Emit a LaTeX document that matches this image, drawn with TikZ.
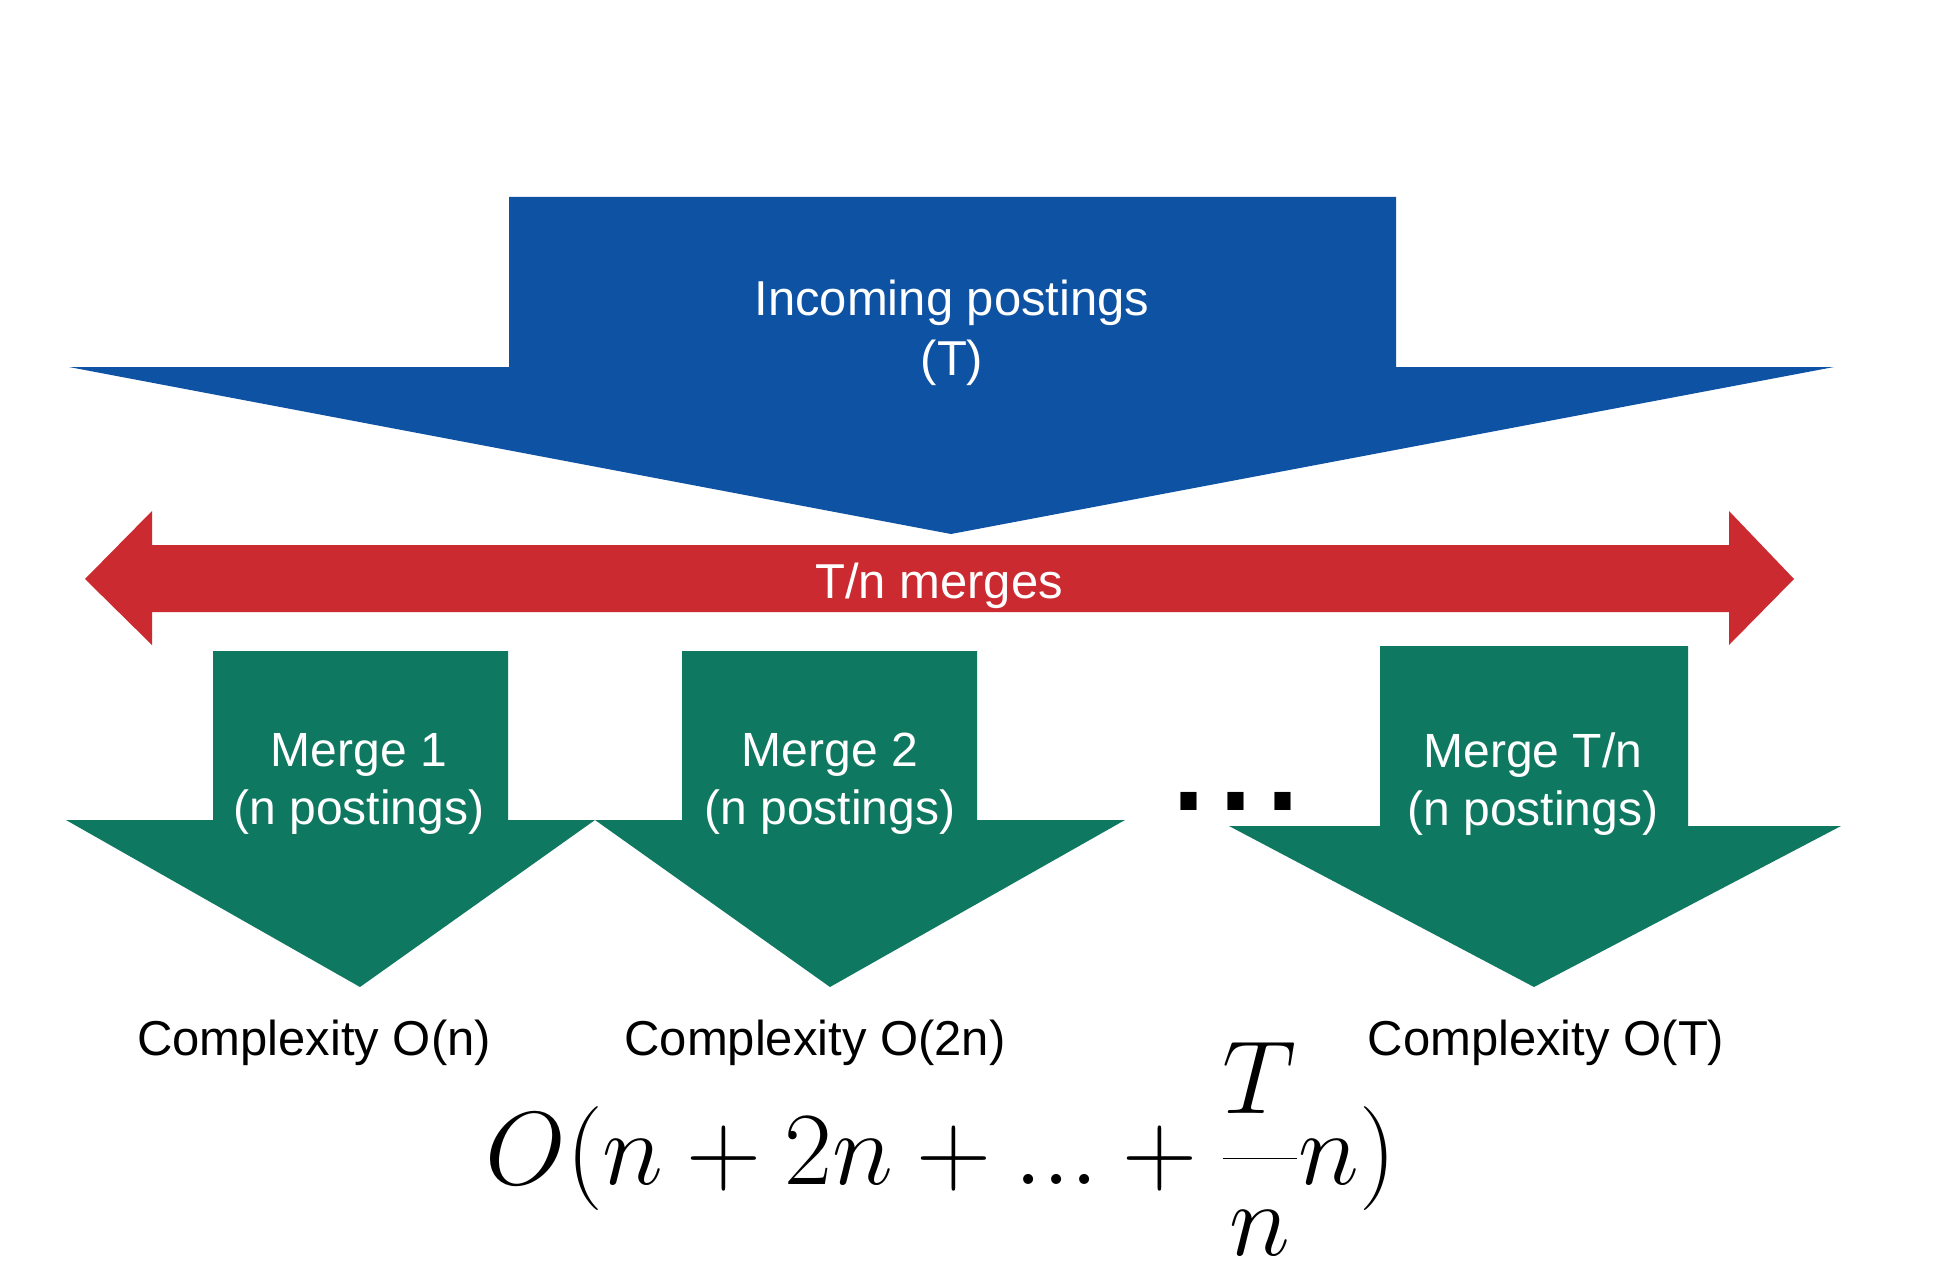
\RequirePackage{fix-cm}
\documentclass[tikz,border=0pt]{standalone}
\usepackage[no-math]{fontspec}
\setmainfont{Liberation Sans}
\definecolor{blueA}{RGB}{14,82,164}
\definecolor{redA}{RGB}{203,42,48}
\definecolor{greenA}{RGB}{15,120,97}
\begin{document}
\begin{tikzpicture}[x=0.5pt,y=-0.5pt,
  lbl/.style={inner sep=0pt, outer sep=0pt, align=center, font=\fontsize{24.5}{30}\selectfont},
  mlbl/.style={inner sep=0pt, outer sep=0pt, align=center, text=white, font=\fontsize{24}{29}\selectfont},
  bigarrow/.style={fill=blueA},
  redarrow/.style={fill=redA},
  grnarrow/.style={fill=greenA}]
\useasboundingbox (0,0) rectangle (1956,1263);
\fill[white] (0,0) rectangle (1956,1263);
% blue incoming arrow
\fill[bigarrow] (509,197) -- (1396,197) -- (1396,367) -- (1834,367) -- (951,534)
  -- (69,367) -- (509,367) -- cycle;
% red double arrow
\fill[redarrow] (85,579) -- (152,511) -- (152,545) -- (1729,545) -- (1729,511)
  -- (1794,579) -- (1729,645) -- (1729,612) -- (152,612) -- (152,645) -- cycle;
% green arrows
\fill[grnarrow] (213,651) -- (508,651) -- (508,820) -- (595,820) -- (360,987)
  -- (66,820) -- (213,820) -- cycle;
\fill[grnarrow] (682,651) -- (977,651) -- (977,820) -- (1125,820) -- (830,987)
  -- (595,820) -- (682,820) -- cycle;
\fill[grnarrow] (1380,646) -- (1688,646) -- (1688,826) -- (1841,826) -- (1534,987)
  -- (1229,826) -- (1380,826) -- cycle;
% texts
\node[lbl, text=white, anchor=north] (incoming) at (952,280) {Incoming postings\\(T)};
\node[lbl, text=white, anchor=base] (merges) at (939,598) {T/n merges};
\node[mlbl, anchor=north] (m1) at (359,733) {Merge 1\\(n postings)};
\node[mlbl, anchor=north] (m2) at (830,733) {Merge 2\\(n postings)};
\node[mlbl, anchor=north] (m3) at (1533,733) {Merge T/n\\(n postings)};
\node[inner sep=0pt, anchor=base, font=\fontsize{84.5}{90}\selectfont] (dots) at (1236,810) {...};
\node[lbl, anchor=base] (c1) at (314,1055) {Complexity O(n)};
\node[lbl, anchor=base] (c2) at (815,1055) {Complexity O(2n)};
\node[lbl, anchor=base] (c3) at (1546,1055) {Complexity O(T)};
\node[inner sep=0pt, anchor=base, font=\fontsize{52}{60}\selectfont] (formula) at (941,1184)
  {$\displaystyle O(n+2n+...+\frac{T}{n}n)$};
\end{tikzpicture}
\end{document}
